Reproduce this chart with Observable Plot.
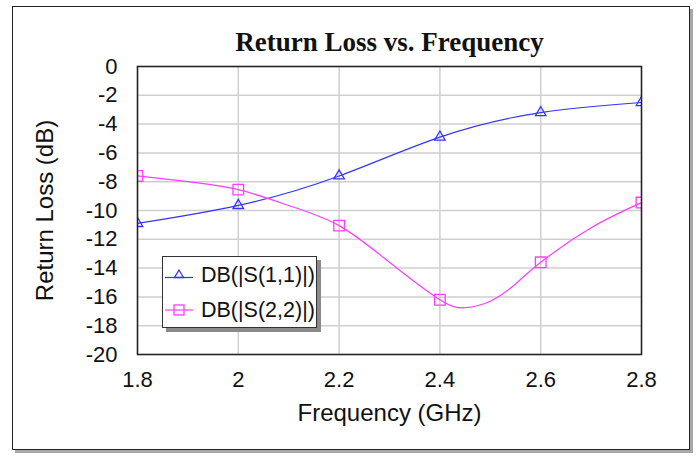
<!DOCTYPE html>
<html><head><meta charset="utf-8">
<script src="https://cdn.jsdelivr.net/npm/d3@7"></script>
<script src="https://cdn.jsdelivr.net/npm/@observablehq/plot@0.6"></script>
<style>
body{margin:0;background:#fff;}
#wrap{position:relative;width:698px;height:456px;overflow:hidden;font-family:"Liberation Sans",Arial,sans-serif;}
#border{position:absolute;left:12px;top:6px;width:676px;height:442px;border:1.5px solid #222;box-shadow:3px 3px 0 #a8a8a8;}
#chart{position:absolute;left:0;top:0;}
#legend{position:absolute;left:162px;top:256px;width:153px;height:70px;border:1.5px solid #333;background:#fff;box-shadow:4px 4px 0 #8a8a8a;}
#legend .row{position:absolute;left:0;height:30px;display:flex;align-items:center;font-size:21.5px;color:#111;}
#legend svg{margin-right:4px;}
</style></head>
<body><div id="wrap"><div id="border"></div><div id="chart"></div><div id="legend"></div></div>
<script>
// marker points (every 0.2 GHz)
const freq = [1.8, 2.0, 2.2, 2.4, 2.6, 2.8];
const s11 = [-10.9, -9.65, -7.6, -4.9, -3.2, -2.5];
const s22 = [-7.6, -8.55, -11.05, -16.2, -13.6, -9.45];
// traced curve of S(2,2) between markers
const freqS22Trace = [1.8, 1.9, 2.0, 2.1, 2.2, 2.3, 2.4, 2.45, 2.5, 2.55, 2.6, 2.7, 2.8];
const s22Trace = [-7.6, -8.0, -8.55, -9.65, -11.05, -13.6, -16.2, -16.75, -16.3, -15.1, -13.6, -11.2, -9.45];
const seriesNames = ["DB(|S(1,1)|)", "DB(|S(2,2)|)"];
const seriesColors = ["#3434ff", "#ff3cff"];
const xTicks = [1.8, 2, 2.2, 2.4, 2.6, 2.8];
const yTicks = [0, -2, -4, -6, -8, -10, -12, -14, -16, -18, -20];
const titleText = "Return Loss vs. Frequency";
const xLabel = "Frequency (GHz)";
const yLabel = "Return Loss (dB)";

const markers = [];
freq.forEach((f, i) => markers.push({f, v: s11[i], series: seriesNames[0]}));
freq.forEach((f, i) => markers.push({f, v: s22[i], series: seriesNames[1]}));
const lines = [];
freq.forEach((f, i) => lines.push({f, v: s11[i], series: seriesNames[0]}));
freqS22Trace.forEach((f, i) => lines.push({f, v: s22Trace[i], series: seriesNames[1]}));

const font = '"Liberation Sans", Arial, sans-serif';
const chart = Plot.plot({
  width: 698, height: 456,
  marginLeft: 137, marginRight: 57, marginTop: 66, marginBottom: 102,
  style: {fontFamily: font, background: "transparent", overflow: "visible"},
  x: {domain: [1.8, 2.8], axis: null},
  y: {domain: [-20, 0], axis: null},
  color: {domain: seriesNames, range: seriesColors},
  marks: [
    Plot.gridX(xTicks, {stroke: "#cfcfcf", strokeOpacity: 1, strokeWidth: 1.5}),
    Plot.gridY(yTicks, {stroke: "#cfcfcf", strokeOpacity: 1, strokeWidth: 1.5}),
    Plot.line(lines, {x: "f", y: "v", z: "series", stroke: "series", curve: "natural", strokeWidth: 1.2}),
    Plot.dot(markers.filter(d => d.series === seriesNames[0]), {x: "f", y: "v", stroke: "series", symbol: () => "triangle", r: 3.9, fill: "none", strokeWidth: 1.3, clip: true}),
    Plot.dot(markers.filter(d => d.series === seriesNames[1]), {x: "f", y: "v", stroke: "series", symbol: () => "square", r: 6, fill: "none", strokeWidth: 1.3, clip: true}),
    Plot.frame({stroke: "#222", strokeWidth: 1.5}),
    Plot.axisX(xTicks, {tickSize: 0, tickPadding: 17, fontSize: 22, tickFormat: d => String(d), label: null, fill: "#111"}),
    Plot.axisY(yTicks, {tickSize: 0, tickPadding: 20, fontSize: 22, tickFormat: d => String(d), label: null, fill: "#111"}),
    Plot.text([titleText], {frameAnchor: "top", dy: -24, lineAnchor: "middle", fontSize: 27, fontWeight: "bold", fontFamily: '"Liberation Serif", "Times New Roman", serif', fill: "#111"}),
    Plot.text([xLabel], {frameAnchor: "bottom", dy: 59, lineAnchor: "middle", fontSize: 24, fill: "#111"}),
    Plot.text([yLabel], {frameAnchor: "left", dx: -92, rotate: -90, textAnchor: "middle", lineAnchor: "middle", fontSize: 24, fill: "#111"})
  ]
});
document.getElementById("chart").appendChild(chart);

const leg = document.getElementById("legend");
const syms = ["triangle", "square"];
seriesNames.forEach((name, i) => {
  const row = document.createElement("div");
  row.className = "row";
  row.style.top = (i === 0 ? 3 : 38) + "px";
  const sym = syms[i] === "triangle"
    ? `<path d="M16 9 L20.5 16.5 L11.5 16.5 Z" fill="none" stroke="${seriesColors[i]}" stroke-width="1.3"/>`
    : `<rect x="11" y="9" width="10" height="10" fill="none" stroke="${seriesColors[i]}" stroke-width="1.3"/>`;
  row.innerHTML = `<svg width="34" height="28"><line x1="2" x2="30" y1="${syms[i]==="triangle"?16.5:14}" y2="${syms[i]==="triangle"?16.5:14}" stroke="${seriesColors[i]}" stroke-width="1.2"/>${sym}</svg><span>${name}</span>`;
  leg.appendChild(row);
});
</script>
</body></html>
